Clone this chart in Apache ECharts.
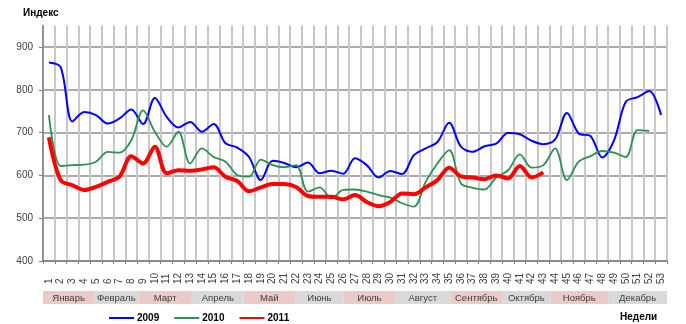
<!DOCTYPE html>
<html>
<head>
<meta charset="utf-8">
<script src="https://cdn.jsdelivr.net/npm/echarts@6/dist/echarts.min.js"></script>
<style>
  html, body { margin: 0; padding: 0; background: #ffffff; }
  #chart { width: 686px; height: 324px; }
</style>
</head>
<body>
<div id="chart"></div>
<script>
// Weekly index, three years
const weeks = ['1','2','3','4','5','6','7','8','9','10','11','12','13','14','15','16','17','18','19','20',
  '21','22','23','24','25','26','27','28','29','30','31','32','33','34','35','36','37','38','39','40',
  '41','42','43','44','45','46','47','48','49','50','51','52','53'];

const y2009 = [864, 853, 726, 748, 741, 721, 733, 754, 720, 781, 737, 712, 725, 702, 720, 675, 665, 643,
  589, 634, 629, 619, 630, 605, 611, 604, 640, 624, 595, 610, 603, 647, 663, 678, 723, 667, 655, 668,
  674, 699, 696, 681, 673, 684, 746, 698, 692, 642, 682, 772, 783, 797, 741];

const y2010 = [741, 622, 624, 625, 632, 655, 653, 682, 752, 702, 667, 702, 628, 663, 643, 632, 601, 597,
  637, 624, 619, 624, 562, 572, 546, 566, 567, 562, 554, 548, 535, 527, 585, 628, 659, 581, 571, 567,
  595, 612, 649, 618, 624, 663, 589, 632, 645, 657, 653, 643, 706, 704, null];

const y2011 = [689, 589, 577, 566, 573, 585, 597, 645, 628, 667, 605, 612, 611, 614, 619, 597, 587, 563,
  572, 580, 580, 573, 552, 550, 550, 544, 554, 538, 528, 538, 558, 556, 572, 589, 618, 598, 595, 591,
  600, 593, 622, 595, 607];

const yTicks = [400, 500, 600, 700, 800, 900];

// Month strip below the week axis: edges measured in weeks from the start of the year
const months = ['Январь','Февраль','Март','Апрель','Май','Июнь','Июль','Август','Сентябрь','Октябрь','Ноябрь','Декабрь'];
const monthEdges = [0, 4.35, 8.1, 12.65, 17.05, 21.4, 25.55, 29.9, 34.6, 39, 43.1, 48, 53];

const monthData = months.map((m, i) => [monthEdges[i], monthEdges[i + 1], m, i % 2]);

const FONT = '"Liberation Sans", Arial, sans-serif';
const TXT = '#404040';

const chart = echarts.init(document.getElementById('chart'), null, { renderer: 'canvas' });

chart.setOption({
  animation: false,
  backgroundColor: '#ffffff',
  title: [
    { text: 'Индекс', left: 18, top: 3,
      textStyle: { fontFamily: FONT, fontSize: 10, fontWeight: 'bold', color: '#000' } },
    { text: 'Недели', left: 615, top: 307,
      textStyle: { fontFamily: FONT, fontSize: 10, fontWeight: 'bold', color: '#000' } }
  ],
  legend: {
    data: ['2009', '2010', '2011'],
    left: 103,
    top: 308,
    itemWidth: 25,
    itemHeight: 10,
    itemGap: 14,
    itemStyle: { opacity: 0 },
    textStyle: { fontFamily: FONT, fontSize: 10, fontWeight: 'bold', color: '#000', padding: [0, 0, 0, -2] }
  },
  grid: [
    { left: 43, right: 19, top: 25.6, bottom: 63, containLabel: false },
    { left: 43, right: 19, top: 291, height: 13, containLabel: false }
  ],
  xAxis: [
    {
      type: 'category',
      gridIndex: 0,
      data: weeks,
      boundaryGap: true,
      axisLine: { show: true, lineStyle: { color: '#808080', width: 1.5 } },
      axisTick: { show: true, length: 3, inside: false, lineStyle: { color: '#808080' } },
      axisLabel: {
        interval: 0, rotate: 90, align: 'left', margin: 23,
        fontFamily: FONT, fontSize: 10, color: TXT
      },
      splitLine: { show: true, interval: 0, lineStyle: { color: '#c8c8c8', width: 2 } }
    },
    {
      type: 'value', gridIndex: 1, min: 0, max: 53, show: false
    }
  ],
  yAxis: [
    {
      type: 'value',
      gridIndex: 0,
      min: 400, max: 950, interval: 100,
      axisLine: { show: true, lineStyle: { color: '#808080', width: 1.5 } },
      axisTick: { show: true, length: 4, lineStyle: { color: '#808080' }, customValues: yTicks },
      axisLabel: { margin: 10, fontFamily: FONT, fontSize: 10, color: TXT, customValues: yTicks },
      splitLine: { show: true, lineStyle: { color: '#8f8f8f', width: 1.5 } }
    },
    {
      type: 'value', gridIndex: 1, min: 0, max: 1, show: false
    }
  ],
  series: [
    {
      name: '2009', type: 'line', data: y2009, smooth: 0.33,
      symbol: 'none', color: '#0000ff',
      lineStyle: { color: '#0000ff', width: 2 }
    },
    {
      name: '2010', type: 'line', data: y2010, smooth: 0.33,
      symbol: 'none', color: '#2f8f55',
      lineStyle: { color: '#2f8f55', width: 1.8 }
    },
    {
      name: '2011', type: 'line', data: y2011, smooth: 0.33,
      symbol: 'none', color: '#ff0000',
      lineStyle: { color: '#ff0000', width: 4 }
    },
    {
      type: 'custom',
      xAxisIndex: 1, yAxisIndex: 1,
      silent: true,
      data: monthData,
      renderItem: function (params, api) {
        const a = api.coord([api.value(0), 1]);
        const b = api.coord([api.value(1), 0]);
        const fill = api.value(3) === 0 ? '#ebcaca' : '#d9d9d9';
        return {
          type: 'group',
          children: [
            { type: 'rect', shape: { x: a[0], y: a[1], width: b[0] - a[0], height: b[1] - a[1] },
              style: { fill: fill } },
            { type: 'text', x: (a[0] + b[0]) / 2, y: (a[1] + b[1]) / 2 + 0.5,
              style: { text: months[params.dataIndex], fill: TXT, font: '9.5px ' + FONT,
                align: 'center', verticalAlign: 'middle' } }
          ]
        };
      }
    }
  ]
});
</script>
</body>
</html>
